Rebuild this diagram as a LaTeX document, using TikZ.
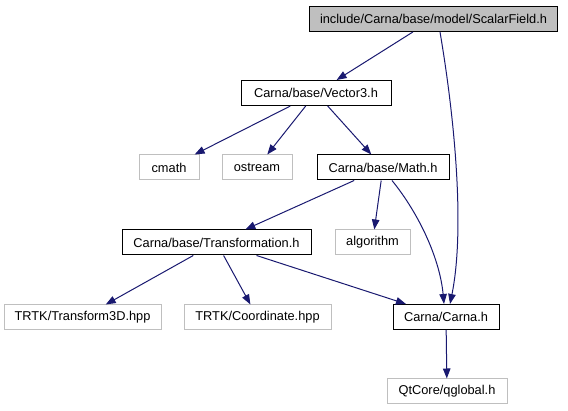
\documentclass[tikz,border=0pt]{standalone}
\usepackage{fontspec}
\setmainfont{Liberation Sans}
\usepackage{tikz}
\usetikzlibrary{arrows.meta}
\definecolor{edgeblue}{RGB}{25,25,112}
\definecolor{boxgray}{RGB}{191,191,191}
\tikzset{
    incarrow/.style={
        line width=1pt,
        edgeblue,
        -{Triangle[length=10pt, width=7.5pt]}
    },
    % documented headers get a black frame
    docbox/.style={
        draw=black,
        line width=1pt,
        fill=white,
        inner sep=0pt,
        minimum height=25pt,
        font=\fontsize{12.8}{15}\selectfont
    },
    extbox/.style={
        docbox,
        draw=boxgray
    },
    rootbox/.style={
        docbox,
        fill=boxgray
    }
}
\begin{document}
\begin{tikzpicture}[x=1pt,y=-1pt]
    \useasboundingbox (0,0) rectangle (568,411);
    \node[rootbox,minimum width=248pt] (scalarfield) at (433.5,19) {include/Carna/base/model/ScalarField.h};
    \node[docbox,minimum width=150pt] (vectorthree) at (316,93) {Carna/base/Vector3.h};
    \node[extbox,minimum width=60pt] (cmath) at (169,167.5) {cmath};
    \node[extbox,minimum width=70pt] (ostream) at (257,167.5) {ostream};
    \node[docbox,minimum width=132pt] (mathh) at (383,167.5) {Carna/base/Math.h};
    \node[docbox,minimum width=189pt] (transformation) at (216.5,242.5) {Carna/base/Transformation.h};
    \node[extbox,minimum width=75pt] (algorithm) at (372.5,242.5) {algorithm};
    \node[extbox,minimum width=157pt] (transformthreed) at (82.5,317.5) {TRTK/Transform3D.hpp};
    \node[extbox,minimum width=147pt] (coordinate) at (257.5,317.5) {TRTK/Coordinate.hpp};
    \node[docbox,minimum width=106pt] (carna) at (446,317) {Carna/Carna.h};
    \node[extbox,minimum width=120pt] (qglobal) at (447,391.5) {QtCore/qglobal.h};

    \draw[incarrow] (scalarfield) -- (vectorthree);
    \draw[incarrow] ([xshift=6.5pt]scalarfield.south) .. controls (455,120) and (465,230) .. ([xshift=4pt]carna.north);
    \draw[incarrow] (vectorthree) -- (cmath);
    \draw[incarrow] (vectorthree) -- (ostream);
    \draw[incarrow] (vectorthree) -- (mathh);
    \draw[incarrow] (mathh) -- (transformation);
    \draw[incarrow] (mathh) -- (algorithm);
    \draw[incarrow] ([xshift=9pt]mathh.south) .. controls (420,215) and (440,260) .. ([xshift=-2pt]carna.north);
    \draw[incarrow] (transformation) -- (transformthreed);
    \draw[incarrow] (transformation) -- (coordinate);
    \draw[incarrow] (transformation) -- (carna);
    \draw[incarrow] (carna) -- (qglobal);
\end{tikzpicture}
\end{document}
